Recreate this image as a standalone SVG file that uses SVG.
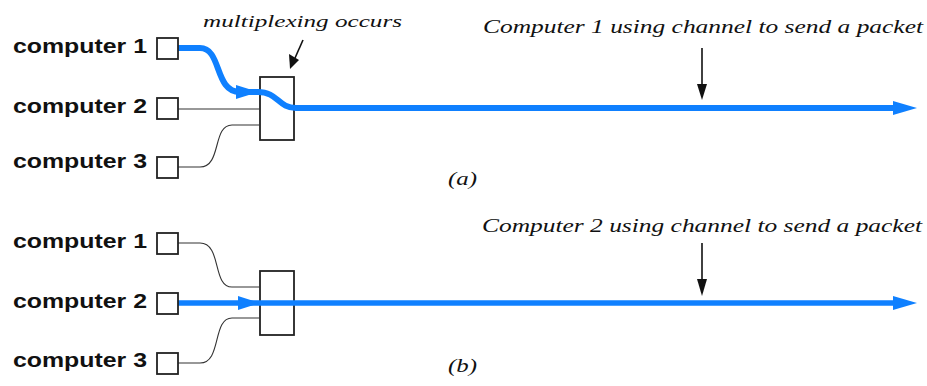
<svg xmlns="http://www.w3.org/2000/svg" width="927" height="386" viewBox="0 0 927 386">
<style>
.lbl{font-family:"Liberation Sans",Arial,sans-serif;font-weight:bold;font-size:20px;fill:#111}
.it{font-family:"Liberation Serif","Times New Roman",serif;font-style:italic;fill:#111}
.box{fill:#fff;stroke:#222;stroke-width:1.8}
.thin{fill:none;stroke:#333;stroke-width:1.1}
.blue{fill:none;stroke:#0f80ff;stroke-linecap:round}
.bfill{fill:#0f80ff}
.blk{fill:none;stroke:#111;stroke-width:1.6}
</style>
<rect width="927" height="386" fill="#fff"/>
<g id="mux-a"><rect class="box" x="260" y="77" width="34" height="63"/></g>
<g id="mux-b"><rect class="box" x="260" y="271" width="34" height="64"/></g>
<g id="connectors">
  <!-- (a) -->
  <path class="thin" d="M178,109 H260"/>
  <path class="thin" d="M178,167 H200 C222,167 212,125 232,125 H260"/>
  <path class="blue" stroke-width="6" d="M177,48 H200 C222,48 214,92 240,92 H258 C278,92 278,108 296,108 H895"/>
  <polygon class="bfill" points="236,85 258,92 236,99"/>
  <polygon class="bfill" points="893,101 917,108 893,115"/>
  <path class="blk" d="M702,48 V86"/>
  <polygon fill="#111" points="697,84 707,84 702,100"/>
  <path class="blk" d="M303,40 L295,58"/>
  <polygon fill="#111" points="289,54 299,60 290,69"/>
  <!-- (b) -->
  <path class="thin" d="M178,243 H200 C222,243 212,287 232,287 H260"/>
  <path class="thin" d="M178,363 H200 C222,363 212,318 232,318 H260"/>
  <path class="blue" stroke-width="5.5" d="M177,303 H895"/>
  <polygon class="bfill" points="238,296 260,303 238,310"/>
  <polygon class="bfill" points="893,296 917,303 893,310"/>
  <path class="blk" d="M702,243 V281"/>
  <polygon fill="#111" points="697,279 707,279 702,296"/>
</g>
<g id="a-computer1"><text class="lbl" x="13" y="53" textLength="134" lengthAdjust="spacingAndGlyphs">computer 1</text><rect class="box" x="157" y="38" width="21" height="21"/></g>
<g id="a-computer2"><text class="lbl" x="13" y="113" textLength="134" lengthAdjust="spacingAndGlyphs">computer 2</text><rect class="box" x="157" y="98" width="21" height="21"/></g>
<g id="a-computer3"><text class="lbl" x="13" y="168" textLength="134" lengthAdjust="spacingAndGlyphs">computer 3</text><rect class="box" x="157" y="157" width="21" height="21"/></g>
<g id="b-computer1"><text class="lbl" x="13" y="248" textLength="134" lengthAdjust="spacingAndGlyphs">computer 1</text><rect class="box" x="157" y="233" width="21" height="21"/></g>
<g id="b-computer2"><text class="lbl" x="13" y="308" textLength="134" lengthAdjust="spacingAndGlyphs">computer 2</text><rect class="box" x="157" y="293" width="21" height="21"/></g>
<g id="b-computer3"><text class="lbl" x="13" y="367" textLength="134" lengthAdjust="spacingAndGlyphs">computer 3</text><rect class="box" x="157" y="353" width="21" height="21"/></g>
<g id="labels">
  <text class="it" x="203" y="27" font-size="17" textLength="199" lengthAdjust="spacingAndGlyphs">multiplexing occurs</text>
  <text class="it" x="483" y="33" font-size="18" textLength="440" lengthAdjust="spacingAndGlyphs">Computer 1 using channel to send a packet</text>
  <text class="it" x="448" y="185" font-size="18" textLength="29" lengthAdjust="spacingAndGlyphs">(a)</text>
  <text class="it" x="482" y="232" font-size="18" textLength="440" lengthAdjust="spacingAndGlyphs">Computer 2 using channel to send a packet</text>
  <text class="it" x="448" y="372" font-size="18" textLength="29" lengthAdjust="spacingAndGlyphs">(b)</text>
</g>
</svg>
